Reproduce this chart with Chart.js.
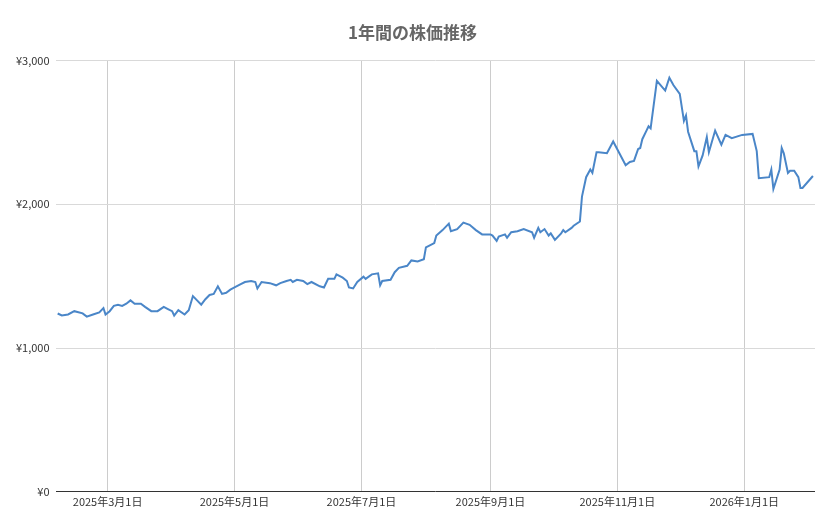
<!DOCTYPE html>
<html><head><meta charset="utf-8">
<script src="https://cdn.jsdelivr.net/npm/chart.js@4"></script>
<style>html,body{margin:0;background:#fff}#w{width:839px;height:519px}</style>
</head><body><div id="w"><canvas id="c"></canvas></div>
<script>
// days since 2025-03-01
const days=[-24,-22,-19,-16,-12,-10,-7,-4,-2,-1,1,3,5,7,9,11,13,16,18,21,24,27,29,31,32,34,37,39,41,43,45,47,49,51,53,55,57,59,61,64,66,69,71,72,74,78,81,83,86,88,89,91,94,96,98,102,104,106,109,110,113,115,116,118,120,123,124,127,130,131,132,136,138,140,144,146,149,152,153,157,158,161,164,165,168,171,174,177,180,184,185,187,188,191,192,194,197,200,204,205,207,208,210,212,213,215,218,219,220,223,224,227,228,230,232,233,235,236,240,243,249,251,253,255,256,257,259,260,261,264,268,270,272,275,277,278,279,282,283,284,286,288,289,292,295,297,300,305,310,312,313,318,319,320,323,324,325,327,328,330,332,333,334,339];
const prices=[1240,1226,1233,1256,1241,1218,1233,1248,1278,1233,1256,1293,1301,1293,1308,1331,1308,1308,1286,1256,1256,1286,1271,1256,1226,1263,1233,1263,1361,1331,1301,1339,1369,1376,1429,1376,1384,1406,1421,1444,1459,1466,1459,1414,1459,1451,1436,1451,1466,1474,1459,1474,1466,1444,1459,1429,1421,1481,1481,1512,1489,1466,1421,1414,1459,1496,1481,1512,1519,1436,1466,1474,1527,1557,1572,1609,1602,1617,1700,1730,1782,1820,1865,1812,1827,1872,1857,1820,1790,1790,1782,1745,1775,1790,1767,1805,1812,1827,1805,1767,1835,1805,1827,1782,1797,1752,1797,1820,1805,1835,1850,1880,2053,2188,2241,2218,2361,2361,2354,2436,2271,2294,2301,2384,2391,2452,2512,2542,2527,2858,2790,2880,2827,2767,2579,2617,2504,2369,2369,2263,2339,2467,2361,2512,2414,2482,2459,2482,2489,2369,2181,2188,2241,2106,2241,2391,2354,2218,2233,2233,2188,2113,2113,2196];
const tickDays=[0,61,122,184,245,306];
const tickLabels=['2025年3月1日','2025年5月1日','2025年7月1日','2025年9月1日','2025年11月1日','2026年1月1日'];
const yTicks=[0,1000,2000,3000];
const title='1年間の株価推移';
const F='"Noto Sans CJK JP","Noto Sans",sans-serif';
new Chart(document.getElementById('c'),{type:'line',
data:{datasets:[{data:days.map((d,i)=>({x:d,y:prices[i]})),borderColor:'#4a86c8',borderWidth:2,pointRadius:0,tension:0}]},
options:{responsive:true,maintainAspectRatio:false,animation:false,
layout:{padding:{left:10,right:24,top:8,bottom:8}},
plugins:{legend:{display:false},tooltip:{enabled:false},
title:{display:true,text:title,color:'#666',font:{family:F,size:17,weight:'bold'},padding:{top:14,bottom:18}}},
scales:{
x:{type:'linear',min:-25,max:340,
afterBuildTicks:a=>{a.ticks=tickDays.map(v=>({value:v}));},
ticks:{autoSkip:false,maxRotation:0,color:'#333',font:{family:F,size:11},callback:(v)=>tickLabels[tickDays.indexOf(v)]},
grid:{color:'#cccccc',drawTicks:false},border:{display:false}},
y:{min:0,max:3000,afterBuildTicks:a=>{a.ticks=yTicks.map(v=>({value:v}));},
ticks:{color:'#333',font:{family:F,size:11},padding:6,callback:v=>'¥'+v.toLocaleString('en-US')},
grid:{color:v=>v.tick&&v.tick.value===0?'#333':'#d9d9d9',drawTicks:false},border:{display:false}}
}}});
</script></body></html>
